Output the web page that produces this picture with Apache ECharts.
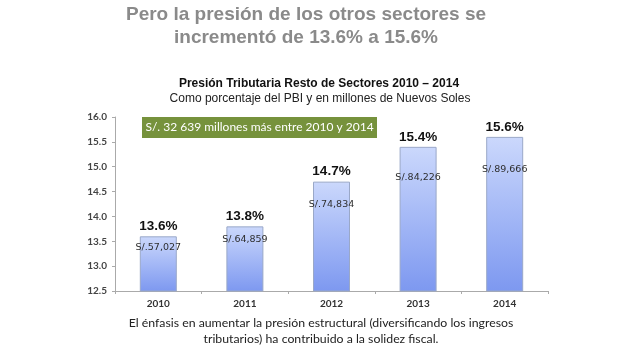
<!DOCTYPE html>
<html><head><meta charset="utf-8">
<script src="https://cdn.jsdelivr.net/npm/echarts@6/dist/echarts.min.js"></script>
<style>html,body{margin:0;padding:0;background:#fff}#c{width:640px;height:357px}</style>
</head><body><div id="c"></div>
<script>
var years = ['2010','2011','2012','2013','2014'];
var presion = [13.6, 13.8, 14.7, 15.4, 15.6];
var soles = ['S/.57,027','S/.64,859','S/.74,834','S/.84,226','S/.89,666'];
var yTicks = [12.5, 13.0, 13.5, 14.0, 14.5, 15.0, 15.5, 16.0];

function txt(x, y, s, font, fill){
  return {type:'text', x:x, y:y, style:{text:s, font:font, fill:fill, textAlign:'center', textVerticalAlign:'middle'}};
}

var chart = echarts.init(document.getElementById('c'), null, {renderer:'canvas'});
chart.setOption({
  backgroundColor:'#ffffff',
  animation:false,
  grid:{left:115, right:92, top:117, bottom:66},
  xAxis:{type:'category', data:years,
    axisLine:{lineStyle:{color:'#aaaaaa'}},
    axisTick:{show:true, length:3, lineStyle:{color:'#aaaaaa'}},
    axisLabel:{fontFamily:'Lato', fontWeight:'bold', fontSize:10, color:'#333', margin:8}},
  yAxis:{type:'value', min:yTicks[0], max:yTicks[yTicks.length-1], interval:0.5,
    splitLine:{show:false},
    axisLine:{show:true, lineStyle:{color:'#aaaaaa'}},
    axisTick:{show:true, length:3, lineStyle:{color:'#aaaaaa'}},
    axisLabel:{fontFamily:'Lato', fontWeight:'bold', fontSize:10, color:'#444', margin:8,
      formatter:function(v){return v.toFixed(1);}}},
  series:[
    {type:'bar', data:presion, barWidth:37,
     itemStyle:{borderColor:'#9aa8c8', borderWidth:1,
       color:new echarts.graphic.LinearGradient(0,0,0,1,[{offset:0,color:'#cbd8fc'},{offset:1,color:'#7d98f0'}])},
     label:{show:true, position:'top', distance:3, fontFamily:'Liberation Sans', fontWeight:'bold', fontSize:13.5, color:'#111',
       formatter:function(p){return p.value.toFixed(1)+'%';}}},
    {type:'bar', data:presion, barWidth:37, barGap:'-100%', silent:true,
     itemStyle:{color:'rgba(0,0,0,0)'},
     label:{show:true, position:['50%','21%'], align:'center', verticalAlign:'middle', fontFamily:'DejaVu Sans', fontSize:9.5, color:'#2e2e2e',
       formatter:function(p){return soles[p.dataIndex];}}}
  ],
  graphic:[
    txt(306, 15, 'Pero la presión de los otros sectores se', 'bold 19px "Liberation Sans"', '#8a8a8a'),
    txt(306, 38, 'incrementó de 13.6% a 15.6%', 'bold 19px "Liberation Sans"', '#8a8a8a'),
    txt(319, 84, 'Presión Tributaria Resto de Sectores 2010 – 2014', 'bold 12px "Liberation Sans"', '#111'),
    txt(320, 99, 'Como porcentaje del PBI y en millones de Nuevos Soles', '12px "Liberation Sans"', '#222'),
    txt(321, 323, 'El énfasis en aumentar la presión estructural (diversificando los ingresos', '12.3px Lato', '#222'),
    txt(321, 339, 'tributarios) ha contribuido a la solidez fiscal.', '12.3px Lato', '#222'),
    {type:'group', left:142, top:117, children:[
      {type:'rect', shape:{x:0,y:0,width:235,height:21}, style:{fill:'#76923c'}},
      {type:'text', x:117.5, y:10.5, style:{text:'S/. 32 639 millones más entre 2010 y 2014', fill:'#fff', font:'12px Lato', textAlign:'center', textVerticalAlign:'middle'}}
    ]}
  ]
});
</script></body></html>
